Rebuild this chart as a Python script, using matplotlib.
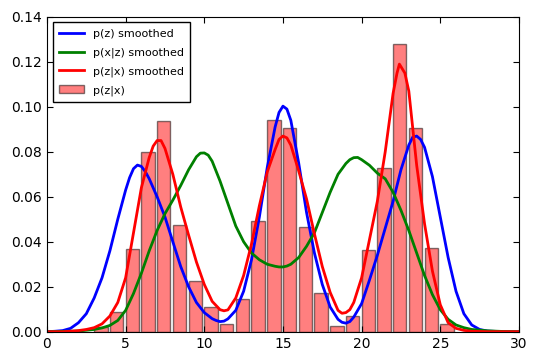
import numpy as np
import matplotlib
matplotlib.use("Agg")
import matplotlib.pyplot as plt

# histogram p(z|x), bins of width 1 starting at 3
bin_left = list(range(3, 26))
hist_pzx = [0.002, 0.0086, 0.0368, 0.080, 0.0936, 0.0474, 0.0227, 0.0108, 0.0034,
            0.0147, 0.0493, 0.0941, 0.0907, 0.0467, 0.0173, 0.0027, 0.0071,
            0.0363, 0.0726, 0.1279, 0.0907, 0.0373, 0.0034]

# smoothed curves
x_pz = [0, 0.5, 1, 1.5, 2, 2.5, 3, 3.5, 4, 4.5, 5, 5.25, 5.5, 5.75, 6, 6.25, 6.5, 7,
        7.5, 8, 8.5, 9, 9.5, 10, 10.5, 10.75, 11, 11.25, 11.5, 12, 12.5, 13, 13.5, 14,
        14.5, 14.75, 15, 15.25, 15.5, 16, 16.5, 17, 17.5, 18, 18.5, 18.75, 19, 19.25,
        19.5, 20, 20.5, 21, 21.5, 22, 22.5, 23, 23.25, 23.5, 23.75, 24, 24.5, 25,
        25.5, 26, 26.5, 27, 27.5, 28, 29, 30]
y_pz = [0.0, 0.0002, 0.0005, 0.0015, 0.004, 0.008, 0.015, 0.024, 0.036, 0.050, 0.063,
        0.0685, 0.0725, 0.0741, 0.0735, 0.0712, 0.068, 0.060, 0.051, 0.040, 0.029,
        0.020, 0.013, 0.0085, 0.0058, 0.005, 0.0045, 0.0047, 0.0057, 0.0095, 0.018,
        0.032, 0.051, 0.073, 0.091, 0.0975, 0.1003, 0.099, 0.094, 0.075, 0.053,
        0.035, 0.021, 0.011, 0.0055, 0.0042, 0.0038, 0.0045, 0.0065, 0.0125, 0.023,
        0.034, 0.046, 0.058, 0.072, 0.083, 0.0865, 0.087, 0.0855, 0.082, 0.069,
        0.051, 0.033, 0.018, 0.008, 0.003, 0.001, 0.0003, 0.0, 0.0]

x_pxz = [0, 2, 3, 3.5, 4, 4.5, 5, 5.5, 6, 6.5, 7, 7.5, 8, 8.5, 9, 9.5, 9.75, 10, 10.25,
         10.5, 11, 11.5, 12, 12.5, 13, 13.5, 14, 14.5, 14.75, 15, 15.25, 15.5, 16,
         16.5, 17, 17.5, 18, 18.5, 19, 19.25, 19.5, 19.75, 20, 20.5, 21, 21.5, 22,
         22.5, 23, 23.5, 24, 24.5, 25, 25.5, 26, 26.5, 27, 28, 29, 30]
y_pxz = [0.0, 0.0003, 0.001, 0.0017, 0.0028, 0.005, 0.0095, 0.017, 0.026, 0.036,
         0.045, 0.0525, 0.0585, 0.065, 0.072, 0.0778, 0.0794, 0.0795, 0.0785, 0.0758,
         0.067, 0.057, 0.047, 0.040, 0.035, 0.032, 0.030, 0.0291, 0.0288, 0.0288,
         0.0292, 0.030, 0.033, 0.038, 0.044, 0.053, 0.062, 0.070, 0.0748, 0.0765,
         0.0774, 0.0775, 0.0765, 0.074, 0.0705, 0.068, 0.062, 0.054, 0.045, 0.035,
         0.025, 0.0165, 0.0098, 0.0055, 0.003, 0.0018, 0.001, 0.0004, 0.0001, 0.0]

x_pzx = [0, 1, 1.5, 2, 2.5, 3, 3.5, 4, 4.5, 5, 5.5, 6, 6.5, 6.75, 7, 7.25, 7.5, 8, 8.5,
         9, 9.5, 10, 10.5, 11, 11.25, 11.5, 12, 12.5, 13, 13.5, 14, 14.5, 14.75, 15,
         15.25, 15.5, 16, 16.5, 17, 17.5, 18, 18.5, 18.75, 19, 19.25, 19.5, 20, 20.5,
         21, 21.5, 22, 22.25, 22.4, 22.75, 23, 23.5, 24, 24.5, 25, 25.5, 26, 26.5, 27,
         28, 30]
y_pzx = [0.0, 0.0, 0.0002, 0.0005, 0.001, 0.0018, 0.0035, 0.007, 0.013, 0.024, 0.044,
         0.064, 0.0775, 0.0825, 0.085, 0.085, 0.0815, 0.070, 0.0555, 0.043, 0.031,
         0.021, 0.0135, 0.0098, 0.0093, 0.0097, 0.015, 0.025, 0.039, 0.056, 0.071,
         0.081, 0.0855, 0.087, 0.0862, 0.083, 0.0715, 0.059, 0.0435, 0.029, 0.0175,
         0.0095, 0.0082, 0.0085, 0.0098, 0.013, 0.024, 0.041, 0.058, 0.080, 0.106,
         0.115, 0.119, 0.115, 0.107, 0.074, 0.048, 0.027, 0.012, 0.004, 0.0015,
         0.0006, 0.0002, 0.0, 0.0]

fig = plt.figure(figsize=(5.4, 3.59), dpi=100)
ax = fig.add_axes([0.087, 0.076, 0.874, 0.877])

l1, = ax.plot(x_pz, y_pz, color='b', lw=2, label='p(z) smoothed')
l2, = ax.plot(x_pxz, y_pxz, color='g', lw=2, label='p(x|z) smoothed')
l3, = ax.plot(x_pzx, y_pzx, color='r', lw=2, label='p(z|x) smoothed')
bars = ax.bar(bin_left, hist_pzx, width=0.85, align='edge', color='red', alpha=0.5,
              edgecolor='black', linewidth=1, label='p(z|x)', zorder=1)

ax.set_xlim(0, 30)
ax.set_ylim(0, 0.14)
ax.set_xticks(np.arange(0, 31, 5))
ax.set_yticks(np.arange(0, 0.141, 0.02))
ax.yaxis.set_major_formatter(matplotlib.ticker.FormatStrFormatter('%.2f'))
ax.tick_params(direction='in', top=True, right=True, length=4, labelsize=10)

leg = ax.legend(handles=[l1, l2, l3, bars], loc='upper left', fontsize=8,
                fancybox=False, framealpha=1, edgecolor='black',
                labelspacing=0.75, borderpad=0.6, handlelength=2.2,
                handletextpad=0.8, borderaxespad=0.5)
leg.get_frame().set_linewidth(1)

fig.savefig('out.png', dpi=100, facecolor='white')
